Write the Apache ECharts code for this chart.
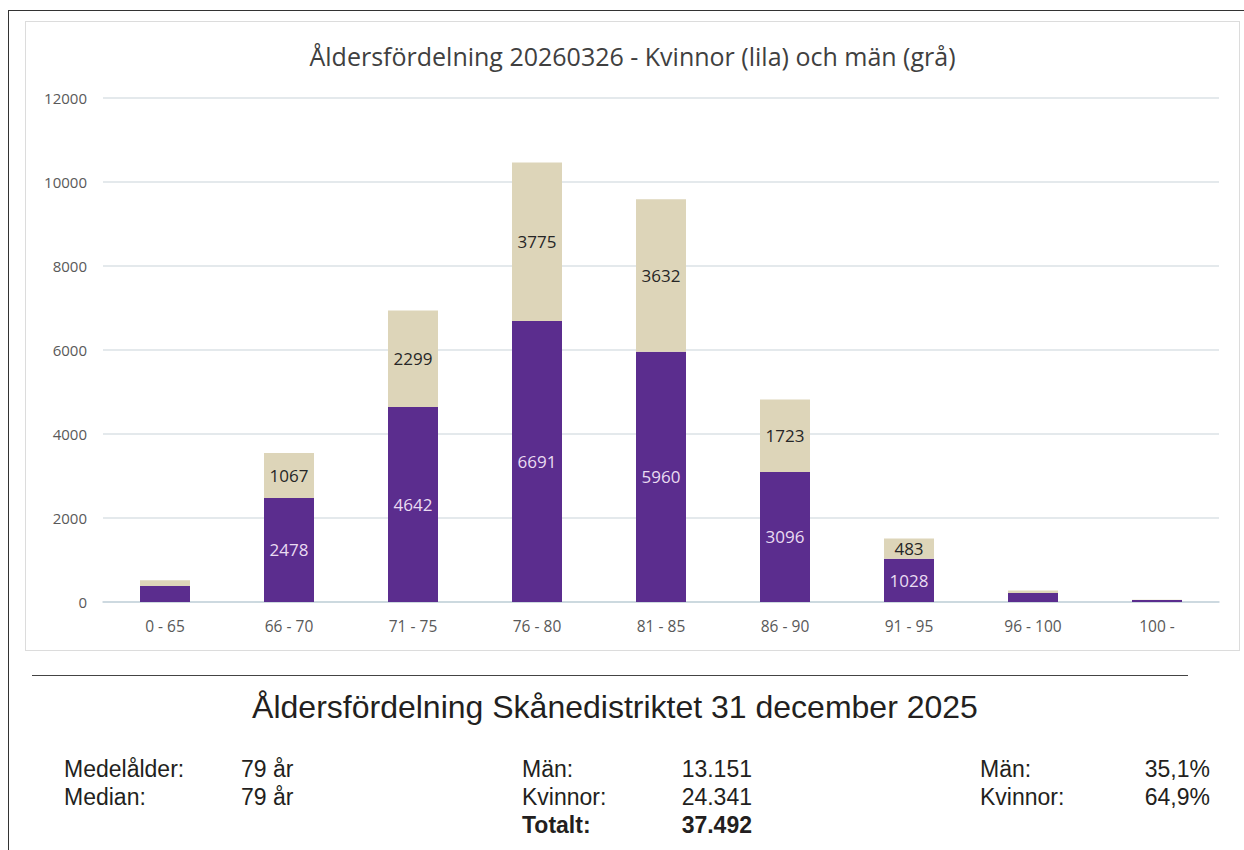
<!DOCTYPE html>
<html>
<head>
<meta charset="utf-8">
<script src="https://cdn.jsdelivr.net/npm/echarts@6/dist/echarts.min.js"></script>
<style>
  html, body { margin:0; padding:0; background:#fff; }
  body { width:1244px; height:850px; position:relative; overflow:hidden; font-family:"Liberation Sans", Arial, sans-serif; color:#231f20; }
  #topline { position:absolute; left:8px; top:10px; width:1236px; height:0; border-top:1.5px solid #333; }
  #leftline { position:absolute; left:8px; top:10px; width:0; height:840px; border-left:1.5px solid #333; }
  #chart { position:absolute; left:25px; top:21px; width:1213px; height:628px; border:1px solid #dcdcdc; }
  #sep { position:absolute; left:32px; top:675px; width:1156px; height:0; border-top:1.5px solid #444; }
  #title2 { position:absolute; left:0; width:1230px; top:689px; text-align:center; font-size:32px; }
  .t { position:absolute; font-size:23px; line-height:28px; }
  .r { text-align:right; }
  .b { font-weight:bold; }
</style>
</head>
<body>
<div id="topline"></div>
<div id="leftline"></div>
<div id="chart"></div>
<div id="sep"></div>
<div id="title2">Åldersfördelning Skånedistriktet 31 december 2025</div>

<div class="t" style="left:64px; top:755px;">Medelålder:<br>Median:</div>
<div class="t" style="left:241px; top:755px;">79 år<br>79 år</div>

<div class="t" style="left:522px; top:755px;">Män:<br>Kvinnor:<br><span class="b">Totalt:</span></div>
<div class="t r" style="left:640px; width:112px; top:755px;">13.151<br>24.341<br><span class="b">37.492</span></div>

<div class="t" style="left:980px; top:755px;">Män:<br>Kvinnor:</div>
<div class="t r" style="left:1090px; width:120px; top:755px;">35,1%<br>64,9%</div>

<script>
const categories = ['0 - 65', '66 - 70', '71 - 75', '76 - 80', '81 - 85', '86 - 90', '91 - 95', '96 - 100', '100 -'];
const women = [380, 2478, 4642, 6691, 5960, 3096, 1028, 215, 45];
const men = [136, 1067, 2299, 3775, 3632, 1723, 483, 60, 10];
const showLabel = [false, true, true, true, true, true, true, false, false];
const yTicks = [0, 2000, 4000, 6000, 8000, 10000, 12000];

const chart = echarts.init(document.getElementById('chart'), null, { renderer: 'svg' });
const font = '"Open Sans", Lato, sans-serif';

function mk(vals) {
  return vals.map((v, i) => ({
    value: v,
    label: { show: showLabel[i] }
  }));
}

chart.setOption({
  animation: false,
  title: {
    text: 'Åldersfördelning 20260326 - Kvinnor (lila) och män (grå)',
    left: 'center',
    top: 16,
    textStyle: { fontFamily: font, fontSize: 25, fontWeight: 'normal', color: '#404040' }
  },
  grid: { left: 77, right: 20, top: 76, bottom: 48 },
  xAxis: {
    type: 'category',
    data: categories,
    axisLine: { lineStyle: { color: '#c5d3db', width: 1.5 } },
    axisTick: { show: false },
    axisLabel: { fontFamily: font, fontSize: 15.5, color: '#595959', margin: 16 }
  },
  yAxis: {
    type: 'value',
    min: yTicks[0],
    max: yTicks[yTicks.length - 1],
    interval: 2000,
    axisLine: { show: false },
    axisTick: { show: false },
    splitLine: { lineStyle: { color: '#dbe2e6', width: 1.5 } },
    axisLabel: { fontFamily: font, fontSize: 15, color: '#595959', margin: 16, formatter: v => String(v) }
  },
  series: [
    {
      name: 'Kvinnor',
      type: 'bar',
      stack: 'tot',
      barWidth: 50,
      data: mk(women),
      itemStyle: { color: '#5b2d8e' },
      label: { position: 'inside', fontFamily: font, fontSize: 17, color: '#eadcf2' }
    },
    {
      name: 'Män',
      type: 'bar',
      stack: 'tot',
      barWidth: 50,
      data: mk(men),
      itemStyle: { color: '#ddd5b9' },
      label: { position: 'inside', fontFamily: font, fontSize: 17, color: '#262626' }
    }
  ]
});
</script>
</body>
</html>
